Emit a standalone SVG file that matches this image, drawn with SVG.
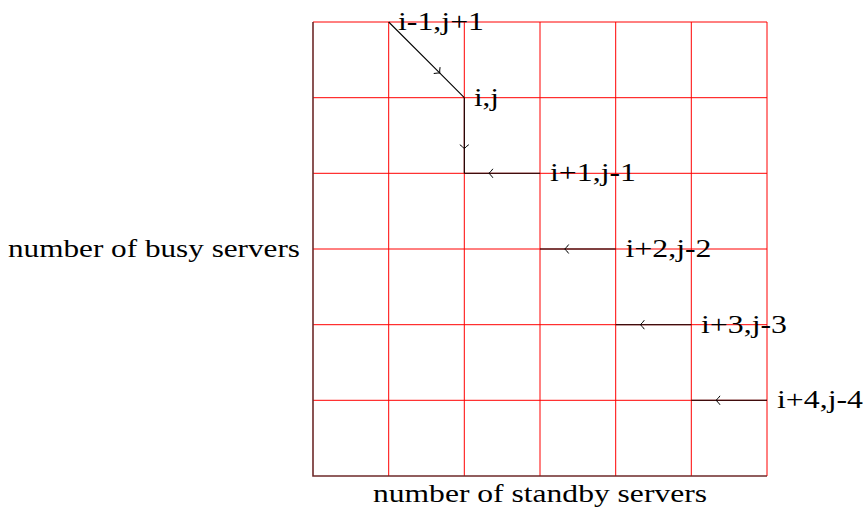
<svg xmlns="http://www.w3.org/2000/svg" width="864" height="511" viewBox="0 0 864 511">
<defs>
<style>
.grid{stroke:#ff0000;stroke-width:1;fill:none}
.axis{stroke:#6e2a2a;stroke-width:1.6;fill:none}
.edge{stroke:#000;stroke-width:1.1;fill:none;marker-mid:url(#chev)}
.lbl{font-family:"Liberation Serif","Times New Roman",serif;font-size:26px;fill:#000}
</style>
<marker id="chev" viewBox="-6 -6 12 12" markerWidth="12" markerHeight="12" refX="0" refY="0" orient="auto" markerUnits="userSpaceOnUse">
<path d="M-3.5,-4.5 Q-1.5,-1.5 0.5,0 Q-1.5,1.5 -3.5,4.5" fill="none" stroke="#000" stroke-width="1"/>
</marker>
</defs>
<rect width="864" height="511" fill="#fff"/>
<g id="grid">
<path class="grid" d="M313,22H767 M313,97.7H767 M313,173.3H767 M313,249H767 M313,324.7H767 M313,400.3H767 M388.7,22V476 M464.3,22V476 M540,22V476 M615.7,22V476 M691.3,22V476 M767,22V476"/>
<path class="axis" d="M313,22V476H767"/>
</g>
<g id="connectors">
<path class="edge" d="M388.7,22 L439.4,72.7 L464.3,97.7"/>
<path class="edge" d="M464.3,97.7 L464.3,148.2 L464.3,173.3"/>
<path class="edge" d="M540,173.3 L489.4,173.3 L464.3,173.3"/>
<path class="edge" d="M615.7,249 L565.2,249 L540,249"/>
<path class="edge" d="M691.3,324.7 L640.8,324.7 L615.7,324.7"/>
<path class="edge" d="M767,400.3 L716.5,400.3 L691.3,400.3"/>
</g>
<g id="n-i-1">
<text class="lbl" x="398" y="30" textLength="86" lengthAdjust="spacingAndGlyphs">i-1,j+1</text>
</g>
<g id="n-i">
<text class="lbl" x="474" y="106" textLength="25" lengthAdjust="spacingAndGlyphs">i,j</text>
</g>
<g id="n-i1">
<text class="lbl" x="550" y="181" textLength="86" lengthAdjust="spacingAndGlyphs">i+1,j-1</text>
</g>
<g id="n-i2">
<text class="lbl" x="625.5" y="257" textLength="86" lengthAdjust="spacingAndGlyphs">i+2,j-2</text>
</g>
<g id="n-i3">
<text class="lbl" x="701" y="333" textLength="86" lengthAdjust="spacingAndGlyphs">i+3,j-3</text>
</g>
<g id="n-i4">
<text class="lbl" x="777" y="408" textLength="86" lengthAdjust="spacingAndGlyphs">i+4,j-4</text>
</g>
<g id="ylabel">
<text class="lbl" x="8" y="257" textLength="292" lengthAdjust="spacingAndGlyphs">number of busy servers</text>
</g>
<g id="xlabel">
<text class="lbl" x="373" y="502" textLength="334" lengthAdjust="spacingAndGlyphs">number of standby servers</text>
</g>
</svg>
